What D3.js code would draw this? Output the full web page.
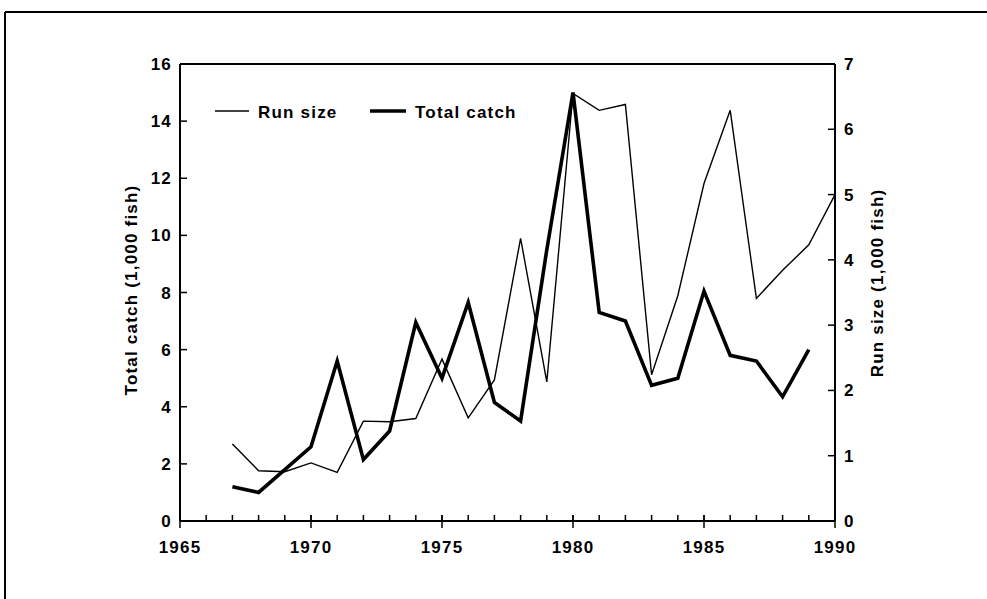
<!DOCTYPE html>
<html>
<head>
<meta charset="utf-8">
<script src="https://cdn.jsdelivr.net/npm/d3@7"></script>
<style>
  body { margin: 0; background: #fff; }
  svg { display: block; }
  text { font-family: "Liberation Sans", Arial, sans-serif; font-weight: bold; fill: #000; font-size: 17px; letter-spacing: 1.2px; }
</style>
</head>
<body>
<svg id="chart" width="987" height="599"></svg>
<script>
// values
var catchYears = [1967,1968,1969,1970,1971,1972,1973,1974,1975,1976,1977,1978,1979,1980,1981,1982,1983,1984,1985,1986,1987,1988,1989];
var totalCatch = [1.2,1.0,1.8,2.6,5.6,2.15,3.15,6.95,5.0,7.65,4.15,3.5,9.5,15.0,7.3,7.0,4.75,5.0,8.05,5.8,5.6,4.35,6.0];

var runYears = [1967,1968,1969,1970,1971,1972,1973,1974,1975,1976,1977,1978,1979,1980,1981,1982,1983,1984,1985,1986,1987,1988,1989,1990];
var runSize = [1.18,0.77,0.755,0.89,0.745,1.53,1.52,1.57,2.48,1.58,2.16,4.33,2.13,6.55,6.29,6.38,2.24,3.45,5.17,6.29,3.41,3.84,4.23,5.0];

var xTicks = [1965,1970,1975,1980,1985,1990];
var leftTicks = [0,2,4,6,8,10,12,14,16];
var rightTicks = [0,1,2,3,4,5,6,7];

var svg = d3.select("#chart");

var x = d3.scaleLinear().domain([1965, 1990]).range([180, 835]);
var yL = d3.scaleLinear().domain([0, 16]).range([521, 64]);
var yR = d3.scaleLinear().domain([0, 7]).range([521, 64]);

// page frame
svg.append("line").attr("x1", 5).attr("x2", 987).attr("y1", 12).attr("y2", 12)
  .attr("stroke", "#000").attr("stroke-width", 2);
svg.append("line").attr("x1", 5).attr("x2", 5).attr("y1", 12).attr("y2", 599)
  .attr("stroke", "#000").attr("stroke-width", 2);

// plot box top
svg.append("line").attr("x1", 180).attr("x2", 835).attr("y1", 64).attr("y2", 64)
  .attr("stroke", "#000").attr("stroke-width", 2);

// bottom axis: minor ticks each year inside, major ticks cross
var bottom = svg.append("g").attr("transform", "translate(0,521)");
bottom.append("line").attr("x1", 180).attr("x2", 835).attr("stroke", "#000").attr("stroke-width", 2);
bottom.selectAll(".minor").data(d3.range(1966, 1990)).enter().append("line")
  .attr("x1", x).attr("x2", x).attr("y1", 0).attr("y2", -6)
  .attr("stroke", "#000").attr("stroke-width", 1.5);
bottom.selectAll(".major").data(xTicks).enter().append("line")
  .attr("x1", x).attr("x2", x).attr("y1", -6).attr("y2", 7)
  .attr("stroke", "#000").attr("stroke-width", 1.5);
bottom.selectAll(".lbl").data(xTicks).enter().append("text")
  .attr("x", x).attr("y", 32).attr("text-anchor", "middle")
  .text(function(d) { return d; });

// left axis
var left = svg.append("g").attr("transform", "translate(180,0)");
left.append("line").attr("y1", 64).attr("y2", 521).attr("stroke", "#000").attr("stroke-width", 2);
left.selectAll(".t").data(leftTicks).enter().append("line")
  .attr("x1", 0).attr("x2", 7).attr("y1", yL).attr("y2", yL)
  .attr("stroke", "#000").attr("stroke-width", 1.5);
left.selectAll(".lbl").data(leftTicks).enter().append("text")
  .attr("x", -8).attr("y", function(d) { return yL(d) + 6; }).attr("text-anchor", "end")
  .text(function(d) { return d; });

// right axis
var right = svg.append("g").attr("transform", "translate(835,0)");
right.append("line").attr("y1", 64).attr("y2", 521).attr("stroke", "#000").attr("stroke-width", 2);
right.selectAll(".t").data(rightTicks).enter().append("line")
  .attr("x1", 0).attr("x2", -7).attr("y1", yR).attr("y2", yR)
  .attr("stroke", "#000").attr("stroke-width", 1.5);
right.selectAll(".lbl").data(rightTicks).enter().append("text")
  .attr("x", 9).attr("y", function(d) { return yR(d) + 6; })
  .text(function(d) { return d; });

// axis titles
svg.append("text").attr("transform", "translate(137,290) rotate(-90)")
  .attr("text-anchor", "middle").text("Total catch (1,000 fish)");
svg.append("text").attr("transform", "translate(883,283) rotate(-90)")
  .attr("text-anchor", "middle").text("Run size (1,000 fish)");

// series
var runLine = d3.line().x(function(d, i) { return x(runYears[i]); }).y(function(d) { return yR(d); });
var catchLine = d3.line().x(function(d, i) { return x(catchYears[i]); }).y(function(d) { return yL(d); });

svg.append("path").datum(runSize).attr("d", runLine)
  .attr("fill", "none").attr("stroke", "#000").attr("stroke-width", 1.4).attr("stroke-linejoin", "miter");
svg.append("path").datum(totalCatch).attr("d", catchLine)
  .attr("fill", "none").attr("stroke", "#000").attr("stroke-width", 3.6).attr("stroke-linejoin", "miter");

// legend
var lg = svg.append("g");
lg.append("line").attr("x1", 215).attr("x2", 249).attr("y1", 111).attr("y2", 111)
  .attr("stroke", "#000").attr("stroke-width", 1.4);
lg.append("text").attr("x", 258).attr("y", 118).text("Run size");
lg.append("line").attr("x1", 370).attr("x2", 406).attr("y1", 111).attr("y2", 111)
  .attr("stroke", "#000").attr("stroke-width", 3.6);
lg.append("text").attr("x", 415).attr("y", 118).text("Total catch");
</script>
</body>
</html>
